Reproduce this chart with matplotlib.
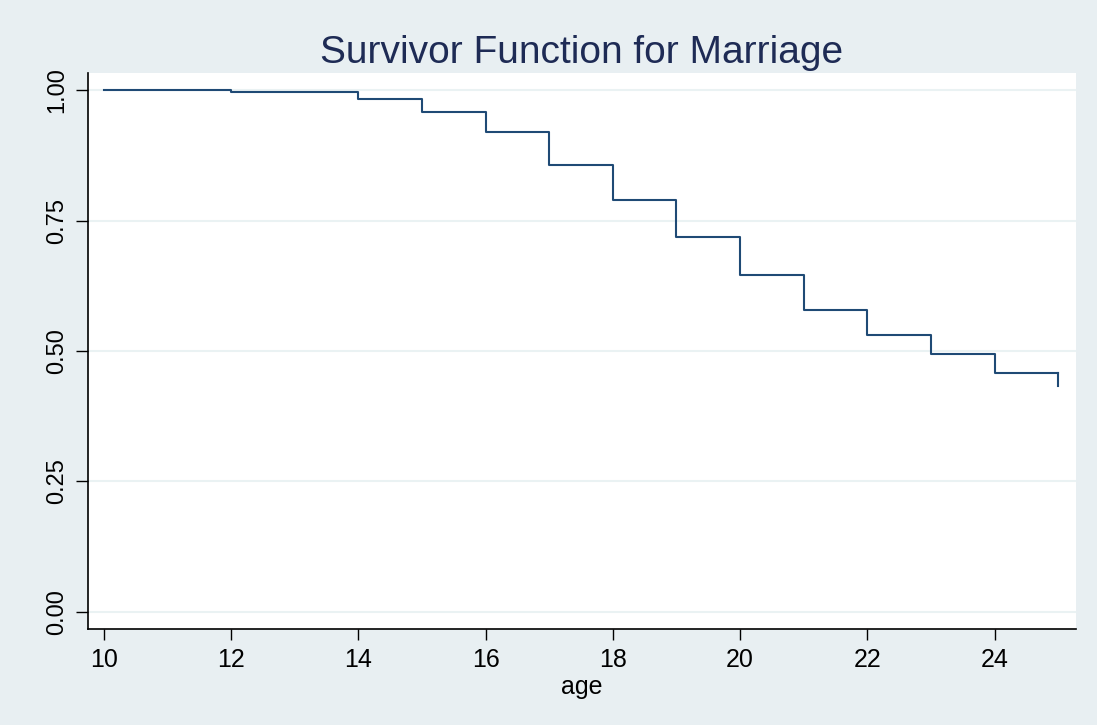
import matplotlib.pyplot as plt

# Kaplan-Meier style survivor estimate
ages = [10, 12, 14, 15, 16, 17, 18, 19, 20, 21, 22, 23, 24, 25]
surv = [1.0, 0.997, 0.983, 0.959, 0.919, 0.857, 0.789, 0.718, 0.646,
        0.579, 0.530, 0.494, 0.458, 0.432]
xticks = [10, 12, 14, 16, 18, 20, 22, 24]
yticks = [0.0, 0.25, 0.5, 0.75, 1.0]

bg = '#e8eff2'
navy = '#1f4a75'

plt.rcParams['font.family'] = ['Liberation Sans', 'DejaVu Sans']

fig = plt.figure(figsize=(10.97, 7.25), dpi=100, facecolor=bg)
ax = fig.add_axes([88 / 1097, 1 - 629 / 725, (1076 - 88) / 1097, (629 - 73) / 725])
ax.set_facecolor('white')

# step function, the last vertical drop at age 25 included
ax.step(ages[:-1] + [ages[-1]], surv[:-2] + [surv[-2], surv[-2]],
        where='post', color=navy, lw=1.5)
ax.plot([ages[-1], ages[-1]], [surv[-2], surv[-1]], color=navy, lw=1.5)

ax.set_xlim(9.75, 25.28)
ax.set_ylim(-0.033, 1.033)
ax.set_xticks(xticks)
ax.set_yticks(yticks)
ax.set_yticklabels([f'{t:.2f}' for t in yticks], rotation=90, va='center')
ax.tick_params(axis='x', labelsize=18, length=8, width=1, pad=6, colors='black')
ax.tick_params(axis='y', labelsize=17, length=9, width=1, pad=5, colors='black')
ax.grid(axis='y', color='#eaf2f3', lw=1.5)
ax.set_axisbelow(True)

for side in ['top', 'right']:
    ax.spines[side].set_visible(False)
for side in ['left', 'bottom']:
    ax.spines[side].set_linewidth(1.2)

ax.set_xlabel('age', fontsize=18, labelpad=2)
ax.set_title('Survivor Function for Marriage', fontsize=28, color='#1e2b55', pad=7)

fig.savefig('out.png', dpi=100, facecolor=bg)
